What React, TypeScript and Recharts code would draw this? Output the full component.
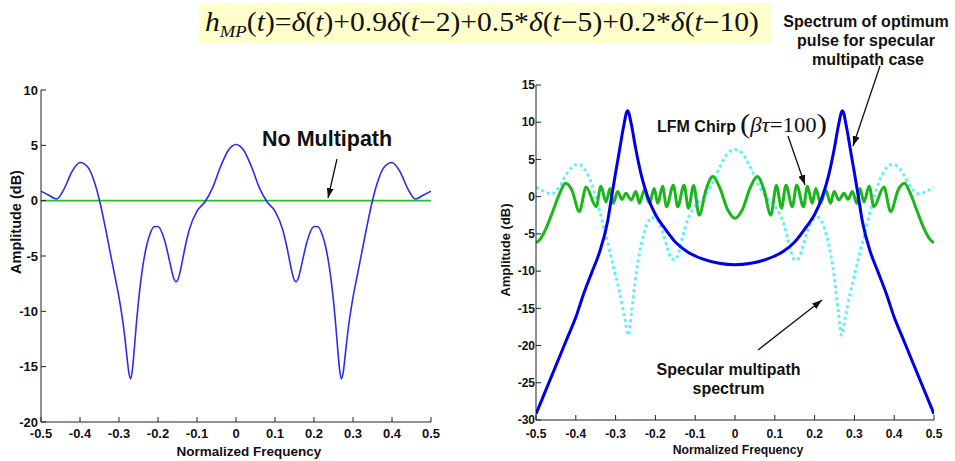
import { LineChart, Line, XAxis, YAxis } from 'recharts';

const SANS = 'Liberation Sans, Arial, Helvetica, sans-serif';
const SERIF = 'Liberation Serif, Times New Roman, serif';

// axis ticks
const freqTicks = [-0.5, -0.4, -0.3, -0.2, -0.1, 0, 0.1, 0.2, 0.3, 0.4, 0.5];
const leftAmpTicks = [-20, -15, -10, -5, 0, 5, 10];
const rightAmpTicks = [-30, -25, -20, -15, -10, -5, 0, 5, 10, 15];

// left panel: multipath channel spectrum (dB) and the flat no-multipath line
const multipathFreq = [
  -0.5, -0.48, -0.46, -0.44, -0.42, -0.4, -0.38, -0.36, -0.35, -0.34, -0.33, -0.32, -0.31, -0.3,
  -0.29, -0.285, -0.28, -0.275, -0.27, -0.265, -0.26, -0.255, -0.25, -0.24, -0.23, -0.22, -0.21,
  -0.2, -0.19, -0.18, -0.17, -0.16, -0.155, -0.15, -0.145, -0.14, -0.13, -0.12, -0.1, -0.08, -0.06,
  -0.04, -0.02, 0, 0.02, 0.04, 0.06, 0.08, 0.1, 0.12, 0.13, 0.14, 0.145, 0.15, 0.155, 0.16, 0.17,
  0.18, 0.19, 0.2, 0.21, 0.22, 0.23, 0.24, 0.25, 0.255, 0.26, 0.265, 0.27, 0.275, 0.28, 0.285, 0.29,
  0.3, 0.31, 0.32, 0.33, 0.34, 0.35, 0.36, 0.38, 0.4, 0.42, 0.44, 0.46, 0.48, 0.5,
];
const multipathAmp = [
  0.86, 0.49, 0.15, 1.12, 2.66, 3.45, 3.04, 1.34, 0.02, -1.57, -3.33, -5.14, -6.92, -8.74,
  -10.98, -12.37, -13.98, -15.5, -16.1, -15.07, -13.06, -10.95, -9.07, -6.16, -4.19, -2.96, -2.36,
  -2.34, -2.88, -3.98, -5.51, -6.98, -7.32, -7.21, -6.68, -5.88, -4.12, -2.65, -0.94, -0.12, 1.16,
  3.04, 4.54, 5.08, 4.54, 3.04, 1.16, -0.12, -0.94, -2.65, -4.12, -5.88, -6.68, -7.21, -7.32, -6.98, -5.51,
  -3.98, -2.88, -2.34, -2.36, -2.96, -4.19, -6.16, -9.07, -10.95, -13.06, -15.07, -16.1, -15.5, -13.98, -12.37, -10.98,
  -8.74, -6.92, -5.14, -3.33, -1.57, 0.02, 1.34, 3.04, 3.45, 2.66, 1.12, 0.15, 0.49, 0.86,
];
const flatFreq = [-0.5, 0.5];
const flatAmp = [0, 0];

// right panel: specular multipath spectrum (dotted)
const specularFreq = [
  -0.5, -0.48, -0.46, -0.44, -0.42, -0.4, -0.39, -0.38, -0.36, -0.35, -0.34, -0.33, -0.32, -0.31,
  -0.3, -0.29, -0.277, -0.268, -0.26, -0.25, -0.24, -0.23, -0.22, -0.21, -0.2, -0.18, -0.17, -0.16,
  -0.15, -0.14, -0.13, -0.12, -0.1, -0.08, -0.06, -0.04, -0.02, 0, 0.02, 0.04, 0.06, 0.08, 0.1, 0.12,
  0.13, 0.14, 0.15, 0.16, 0.17, 0.18, 0.2, 0.21, 0.22, 0.23, 0.24, 0.25, 0.26, 0.268, 0.277, 0.29,
  0.3, 0.31, 0.32, 0.33, 0.34, 0.35, 0.36, 0.38, 0.39, 0.4, 0.42, 0.44, 0.46, 0.48, 0.5,
];
const specularAmp = [
  1.3, 0.7, 0.4, 1.45, 3.3, 4.3, 4.3, 3.8, 1.7, 0.0, -1.9, -4.1, -6.2, -8.4,
  -10.6, -12.8, -16.3, -18.6, -15.6, -11.0, -7.6, -5.2, -3.6, -2.8, -2.9, -5.0, -6.8, -8.3,
  -8.5, -7.2, -5.1, -3.3, -1.2, -0.15, 1.45, 3.8, 5.7, 6.35, 5.7, 3.8, 1.45, -0.15, -1.2, -3.3,
  -5.1, -7.2, -8.5, -8.3, -6.8, -5.0, -2.9, -2.8, -3.6, -5.2, -7.6, -11.0, -15.6, -18.6, -16.3, -12.8,
  -10.6, -8.4, -6.2, -4.1, -1.9, 0.0, 1.7, 3.8, 4.3, 4.3, 3.3, 1.45, 0.4, 0.7, 1.3,
];

// right panel: optimum pulse spectrum (thick blue)
const optimumFreq = [
  -0.5, -0.48, -0.46, -0.44, -0.42, -0.4, -0.38, -0.36, -0.34, -0.32, -0.31, -0.3, -0.29, -0.28,
  -0.27, -0.26, -0.25, -0.235, -0.22, -0.2, -0.18, -0.15, -0.12, -0.08, -0.04, 0, 0.04, 0.08, 0.12,
  0.15, 0.18, 0.2, 0.22, 0.235, 0.25, 0.26, 0.27, 0.28, 0.29, 0.3, 0.31, 0.32, 0.34, 0.36, 0.38, 0.4,
  0.42, 0.44, 0.46, 0.48, 0.5,
];
const optimumAmp = [
  -29.2, -26.6, -24.0, -21.4, -18.8, -16.2, -13.0, -10.2, -7.4, -3.3, 0.0, 3.2, 6.3, 9.4,
  11.55, 9.6, 6.6, 2.8, 0.1, -2.4, -4.0, -6.1, -7.4, -8.4, -8.95, -9.15, -8.95, -8.4, -7.4,
  -6.1, -4.0, -2.4, 0.1, 2.8, 6.6, 9.6, 11.55, 9.4, 6.3, 3.2, 0.0, -3.3, -7.4, -10.2, -13.0, -16.2,
  -18.8, -21.4, -24.0, -26.6, -29.2,
];

// right panel: LFM chirp spectrum (thick green)
const chirpFreq = [
  -0.5, -0.488, -0.475, -0.458, -0.44, -0.426, -0.41, -0.391, -0.374, -0.349, -0.337, -0.324,
  -0.314, -0.306, -0.295, -0.284, -0.274, -0.261, -0.249, -0.24, -0.228, -0.215, -0.203, -0.194,
  -0.182, -0.172, -0.155, -0.144, -0.128, -0.117, -0.104, -0.09, -0.073, -0.056, -0.039, -0.018, 0,
  0.018, 0.039, 0.056, 0.073, 0.09, 0.104, 0.117, 0.128, 0.144, 0.155, 0.172, 0.182, 0.194, 0.203,
  0.215, 0.228, 0.24, 0.249, 0.261, 0.274, 0.284, 0.295, 0.306, 0.314, 0.324, 0.337, 0.349, 0.374,
  0.391, 0.41, 0.426, 0.44, 0.458, 0.475, 0.488, 0.5,
];
const chirpAmp = [
  -6.2, -5.6, -4.3, -2.0, 0.5, 1.8, 0.9, -2.0, 1.3, -1.35, 1.4, -0.7,
  1.1, -0.9, 0.7, -0.35, 0.45, -0.45, 0.7, -0.9, 0.9, -0.9, 1.1, -0.9,
  1.4, -1.35, 1.55, -1.35, 1.55, -1.55, 1.5, -2.5, 0.9, 2.7, 1.3, -1.8, -2.9,
  -1.8, 1.3, 2.7, 0.9, -2.5, 1.5, -1.55, 1.55, -1.35, 1.55, -1.35, 1.4, -0.9, 1.1,
  -0.9, 0.9, -0.9, 0.7, -0.45, 0.45, -0.35, 0.7, -0.9, 1.1, -0.7, 1.4, -1.35, 1.3,
  -2.0, 0.9, 1.8, 0.5, -2.0, -4.3, -5.6, -6.2,
];

const zip = (freq: number[], amp: number[]) => freq.map((f, i) => ({ f, amp: amp[i] }));

const EmptyTick = () => <g />;

function LeftPanel() {
  const tickStyle = { fill: '#111', fontSize: 13, fontWeight: 'bold', fontFamily: SANS };
  return (
    <LineChart width={480} height={381} margin={{ top: 10, right: 49, bottom: 0, left: 0 }}>
      <XAxis
        xAxisId="b"
        type="number"
        dataKey="f"
        domain={[-0.5, 0.5]}
        ticks={freqTicks}
        interval={0}
        allowDataOverflow
        height={39}
        stroke="#222"
        tickSize={-5}
        tickMargin={12}
        tick={tickStyle}
        label={{
          value: 'Normalized Frequency',
          position: 'insideBottom',
          offset: 5,
          dx: 13,
          fontSize: 13.5,
          fontWeight: 'bold',
          fill: '#111',
          fontFamily: SANS,
        }}
      />
      <XAxis
        xAxisId="t"
        orientation="top"
        type="number"
        dataKey="f"
        domain={[-0.5, 0.5]}
        ticks={freqTicks}
        interval={0}
        height={0}
        stroke="#222"
        tickSize={-5}
        tick={EmptyTick}
      />
      <YAxis
        yAxisId="l"
        type="number"
        domain={[-20, 10]}
        ticks={leftAmpTicks}
        interval={0}
        allowDataOverflow
        width={41}
        stroke="#222"
        tickSize={-5}
        tickMargin={8}
        tick={tickStyle}
        label={{
          value: 'Amplitude (dB)',
          position: 'center',
          angle: -90,
          dx: -4.5,
          dy: -34,
          fontSize: 14.5,
          fontWeight: 'bold',
          fill: '#111',
          fontFamily: SANS,
        }}
      />
      <YAxis
        yAxisId="r"
        orientation="right"
        type="number"
        domain={[-20, 10]}
        ticks={leftAmpTicks}
        interval={0}
        width={0}
        stroke="#222"
        tickSize={-5}
        tick={EmptyTick}
      />
      <Line
        xAxisId="b"
        yAxisId="l"
        data={zip(flatFreq, flatAmp)}
        dataKey="amp"
        type="linear"
        stroke="#22c422"
        strokeWidth={1.6}
        dot={false}
        activeDot={false}
        isAnimationActive={false}
      />
      <Line
        xAxisId="b"
        yAxisId="l"
        data={zip(multipathFreq, multipathAmp)}
        dataKey="amp"
        type="monotone"
        stroke="#2c2cf2"
        strokeWidth={1.6}
        dot={false}
        activeDot={false}
        isAnimationActive={false}
      />
    </LineChart>
  );
}

function RightPanel() {
  const tickStyle = { fill: '#111', fontSize: 12, fontWeight: 'bold', fontFamily: SANS };
  return (
    <LineChart width={465} height={391} margin={{ top: 15, right: 21, bottom: 0, left: 0 }}>
      <XAxis
        xAxisId="b"
        type="number"
        dataKey="f"
        domain={[-0.5, 0.5]}
        ticks={freqTicks}
        interval={0}
        allowDataOverflow
        height={41}
        stroke="#222"
        tickSize={-5}
        tickMargin={14}
        tick={tickStyle}
        label={{
          value: 'Normalized Frequency',
          position: 'insideBottom',
          offset: 7,
          dx: 3,
          fontSize: 12.2,
          fontWeight: 'bold',
          fill: '#111',
          fontFamily: SANS,
        }}
      />
      <XAxis
        xAxisId="t"
        orientation="top"
        type="number"
        dataKey="f"
        domain={[-0.5, 0.5]}
        ticks={freqTicks}
        interval={0}
        height={0}
        stroke="#222"
        tickSize={-5}
        tick={EmptyTick}
      />
      <YAxis
        yAxisId="l"
        type="number"
        domain={[-30, 15]}
        ticks={rightAmpTicks}
        interval={0}
        allowDataOverflow
        width={46}
        stroke="#222"
        tickSize={-5}
        tickMargin={6}
        tick={tickStyle}
        label={{
          value: 'Amplitude (dB)',
          position: 'center',
          angle: -90,
          dx: -7.3,
          dy: -2.5,
          fontSize: 13,
          fontWeight: 'bold',
          fill: '#111',
          fontFamily: SANS,
        }}
      />
      <YAxis
        yAxisId="r"
        orientation="right"
        type="number"
        domain={[-30, 15]}
        ticks={rightAmpTicks}
        interval={0}
        width={0}
        stroke="#222"
        tickSize={-5}
        tick={EmptyTick}
      />
      <Line
        xAxisId="b"
        yAxisId="l"
        data={zip(specularFreq, specularAmp)}
        dataKey="amp"
        type="monotone"
        stroke="#5ef0ff"
        strokeWidth={3}
        strokeDasharray="3 3"
        dot={false}
        activeDot={false}
        isAnimationActive={false}
      />
      <Line
        xAxisId="b"
        yAxisId="l"
        data={zip(chirpFreq, chirpAmp)}
        dataKey="amp"
        type="monotone"
        stroke="#1cb51c"
        strokeWidth={3}
        dot={false}
        activeDot={false}
        isAnimationActive={false}
      />
      <Line
        xAxisId="b"
        yAxisId="l"
        data={zip(optimumFreq, optimumAmp)}
        dataKey="amp"
        type="monotone"
        stroke="#0000e8"
        strokeWidth={3}
        dot={false}
        activeDot={false}
        isAnimationActive={false}
      />
    </LineChart>
  );
}

function Annotations() {
  const bold = { fontFamily: SANS, fontWeight: 'bold' as const, fill: '#111' };
  return (
    <svg
      width={955}
      height={461}
      style={{ position: 'absolute', left: 0, top: 0, pointerEvents: 'none' }}
    >
      <defs>
        <marker
          id="arrowHead"
          markerWidth={10}
          markerHeight={7}
          refX={10}
          refY={3.5}
          orient="auto"
          markerUnits="userSpaceOnUse"
        >
          <path d="M0,0 L10,3.5 L0,7 z" fill="#111" />
        </marker>
      </defs>

      {/* channel impulse response */}
      <rect x={199} y={3} width={573} height={40} fill="#ffffcc" />
      <text
        x={205}
        y={31}
        fontFamily={SERIF}
        fontSize={27}
        fill="#111"
        textLength={554}
        lengthAdjust="spacingAndGlyphs"
      >
        <tspan fontStyle="italic">h</tspan>
        <tspan fontStyle="italic" fontSize={17} dy={6}>MP</tspan>
        <tspan dy={-6}>(</tspan>
        <tspan fontStyle="italic">t</tspan>
        <tspan>)=</tspan>
        <tspan fontStyle="italic">δ</tspan>
        <tspan>(</tspan>
        <tspan fontStyle="italic">t</tspan>
        <tspan>)+0.9</tspan>
        <tspan fontStyle="italic">δ</tspan>
        <tspan>(</tspan>
        <tspan fontStyle="italic">t</tspan>
        <tspan>−2)+0.5*</tspan>
        <tspan fontStyle="italic">δ</tspan>
        <tspan>(</tspan>
        <tspan fontStyle="italic">t</tspan>
        <tspan>−5)+0.2*</tspan>
        <tspan fontStyle="italic">δ</tspan>
        <tspan>(</tspan>
        <tspan fontStyle="italic">t</tspan>
        <tspan>−10)</tspan>
      </text>

      {/* left panel */}
      <text x={262} y={145.5} fontSize={21.5} {...bold}>No Multipath</text>
      <line x1={337} y1={159} x2={328} y2={198} stroke="#111" strokeWidth={1.3} markerEnd="url(#arrowHead)" />

      {/* right panel */}
      <g fontSize={16} textAnchor="middle" {...bold}>
        <text x={866} y={26.5}>Spectrum of optimum</text>
        <text x={866} y={45.5}>pulse for specular</text>
        <text x={868} y={64.5}>multipath case</text>
      </g>
      <line x1={880} y1={66} x2={853} y2={146} stroke="#111" strokeWidth={1.3} markerEnd="url(#arrowHead)" />

      <text x={657} y={132} fontSize={16} {...bold}>LFM Chirp</text>
      <text x={740} y={132} fontFamily={SERIF} fill="#111" textLength={87} lengthAdjust="spacingAndGlyphs">
        <tspan fontSize={27} dy={1}>(</tspan>
        <tspan fontSize={20} dy={-1} fontStyle="italic">βτ</tspan>
        <tspan fontSize={20}>=100</tspan>
        <tspan fontSize={27} dy={1}>)</tspan>
      </text>
      <line x1={788} y1={136} x2={805} y2={185} stroke="#111" strokeWidth={1.3} markerEnd="url(#arrowHead)" />

      <g fontSize={16} textAnchor="middle" {...bold}>
        <text x={728.5} y={375}>Specular multipath</text>
        <text x={728.5} y={393.5}>spectrum</text>
      </g>
      <line x1={758} y1={350} x2={822} y2={300} stroke="#111" strokeWidth={1.3} markerEnd="url(#arrowHead)" />
    </svg>
  );
}

export default function App() {
  return (
    <div
      style={{
        position: 'absolute',
        left: 0,
        top: 0,
        width: 955,
        height: 461,
        background: '#fff',
        overflow: 'hidden',
      }}
    >
      <div style={{ position: 'absolute', left: 0, top: 80 }}>
        <LeftPanel />
      </div>
      <div style={{ position: 'absolute', left: 490, top: 70 }}>
        <RightPanel />
      </div>
      <Annotations />
    </div>
  );
}
